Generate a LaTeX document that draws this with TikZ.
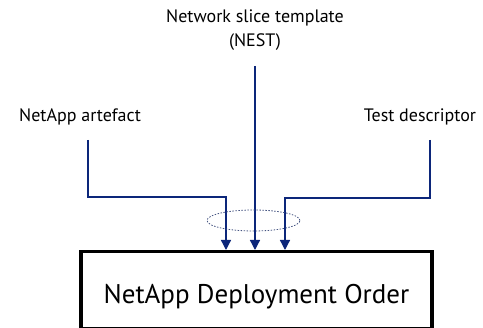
\documentclass[tikz,border=0pt]{standalone}
\usepackage{fontspec}
\setmainfont{PT Sans}
\usetikzlibrary{arrows.meta}
\definecolor{feedblue}{RGB}{12,38,122}
\definecolor{ringgrey}{RGB}{70,85,130}

\begin{document}
\begin{tikzpicture}[x=1pt, y=1pt, >={Triangle[width=10pt, length=10pt]},
  feed/.style={draw=feedblue, line width=1.3pt, ->},
  source/.style={font=\fontsize{18}{24}\selectfont, align=center},
  orderbox/.style={draw, line width=3.5pt, minimum width=351pt, minimum height=77pt,
    text height=33pt, text depth=6pt, font=\fontsize{27}{32}\selectfont}]
  \useasboundingbox (0,0) rectangle (483,328);
  \node[source] (nest) at (255,298) {Network slice template\\(NEST)};
  \node[source] (art) at (80,211) {NetApp artefact};
  \node[source] (test) at (420,211) {Test descriptor};
  \node[orderbox, anchor=north] (order) at (256.5,78) {NetApp Deployment Order};
  \coordinate (nest0) at (255,262);
  \coordinate (art0) at (88,188);
  \coordinate (test0) at (430,188);
  \coordinate (artbend) at (226,131);
  \coordinate (testbend) at (285,130);
  \draw[feed] (art0) |- (artbend) -- (artbend |- order.north);
  \draw[feed] (nest0) -- (nest0 |- order.north);
  \draw[feed] (test0) |- (testbend) -- (testbend |- order.north);
  \draw[ringgrey, line width=0.8pt, dash pattern=on 1.5pt off 1.5pt] (253.5,107.5) ellipse (46.5 and 10.5);
\end{tikzpicture}
\end{document}
